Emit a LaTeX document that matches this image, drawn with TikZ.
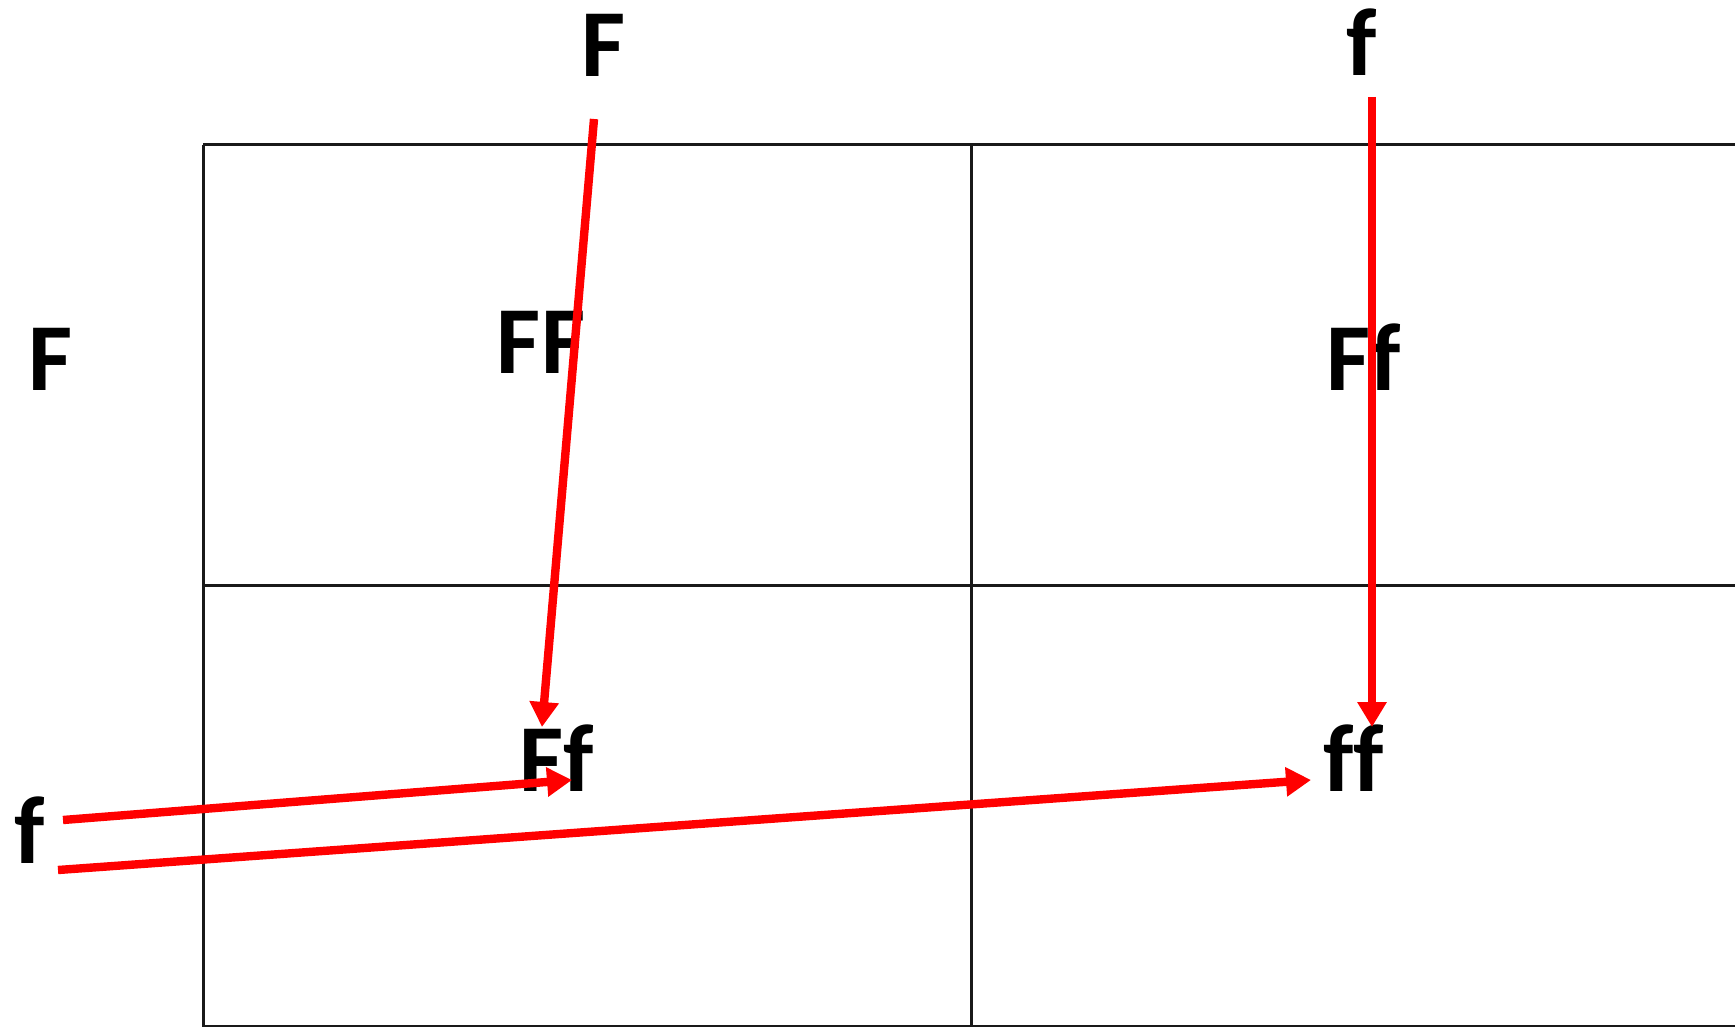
\documentclass[tikz,border=0pt]{standalone}
\usepackage{fontspec}
\setmainfont{Carlito}[Ligatures=NoCommon]
\usetikzlibrary{arrows.meta}
\begin{document}
\begin{tikzpicture}[x=0.5pt,y=-0.5pt,
  lbl/.style={anchor=base,inner sep=0pt,font=\fontsize{48}{58}\selectfont\bfseries},
  gridline/.style={line width=1.5pt,draw=black!90},
  redarrow/.style={draw=red,line width=4.2pt,-{Triangle[length=12.5pt,width=14pt]}}]
\useasboundingbox (0,0) rectangle (1735,1027);
% grid
\draw[gridline] (203,145) -- (1735,145);
\draw[gridline] (203,585) -- (1735,585);
\draw[gridline] (203,1026) -- (1735,1026);
\draw[gridline] (203,145) -- (203,1027);
\draw[gridline] (971,145) -- (971,1027);
% labels
\node[lbl] (topF) at (604,77) {F};
\node[lbl] (topf) at (1362,76) {f};
\node[lbl] (leftF) at (51,390) {F};
\node[lbl] (leftf) at (30,863) {f};
\node[lbl] (FF) at (541,373) {FF};
\node[lbl] (Ff1) at (1364,390) {Ff};
\node[lbl] (Ff2) at (557,791) {Ff};
\node[lbl] (ff) at (1354,791) {ff};
% arrow end points
\coordinate (a1s) at (594,119);
\coordinate (a1e) at (542,727);
\coordinate (a2s) at (1372,97);
\coordinate (a2e) at (1372,727);
\coordinate (a3s) at (63,820);
\coordinate (a3e) at (572,780);
\coordinate (a4s) at (58,870);
\coordinate (a4e) at (1311,780);
\draw[redarrow] (a1s) -- (a1e);
\draw[redarrow] (a2s) -- (a2e);
\draw[redarrow] (a3s) -- (a3e);
\draw[redarrow] (a4s) -- (a4e);
\end{tikzpicture}
\end{document}
